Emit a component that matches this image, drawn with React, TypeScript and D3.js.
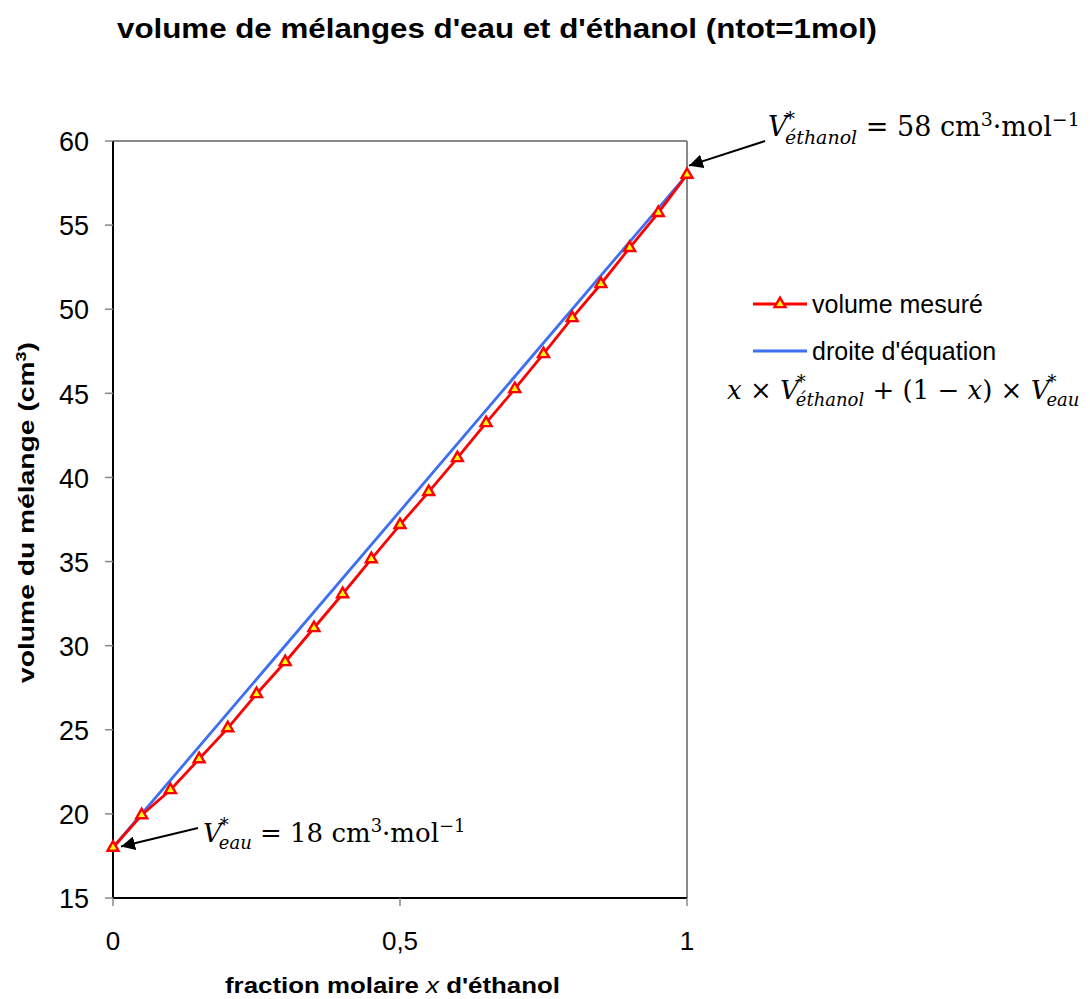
import * as d3 from "d3";

const WIDTH = 1090;
const HEIGHT = 999;

const FRACTIONS = [
  0, 0.05, 0.1, 0.15, 0.2, 0.25, 0.3, 0.35, 0.4, 0.45, 0.5, 0.55, 0.6, 0.65,
  0.7, 0.75, 0.8, 0.85, 0.9, 0.95, 1,
];
const MEASURED = [
  18, 19.93, 21.42, 23.26, 25.1, 27.13, 29.03, 31.05, 33.07, 35.15, 37.18,
  39.14, 41.16, 43.24, 45.26, 47.34, 49.48, 51.5, 53.65, 55.73, 58,
];
const IDEAL_X = [0, 1];
const IDEAL_Y = [18, 58];
const Y_TICKS = [15, 20, 25, 30, 35, 40, 45, 50, 55, 60];
const X_TICKS = [0, 0.5, 1];

const M = { left: 113, right: 687, top: 141, bottom: 898 };
const SANS = "'Liberation Sans', Arial, sans-serif";
const MATH = "'DejaVu Serif', 'Liberation Serif', serif";
const RED = "#ff0000";
const BLUE = "#3d6ff2";

export default function App() {
  const x = d3.scaleLinear().domain([0, 1]).range([M.left, M.right]);
  const y = d3.scaleLinear().domain([15, 60]).range([M.bottom, M.top]);

  const measuredLine = d3
    .line<number>()
    .x((_, i) => x(FRACTIONS[i]))
    .y((d) => y(d))(MEASURED);
  const idealLine = d3
    .line<number>()
    .x((_, i) => x(IDEAL_X[i]))
    .y((d) => y(d))(IDEAL_Y);

  const tri = d3.symbol(d3.symbolTriangle, 52)() ?? "";
  const fmt = (v: number) => String(v).replace(".", ",");

  return (
    <svg width={WIDTH} height={HEIGHT} style={{ display: "block", marginTop: -8, marginLeft: -8 }}>
      <defs>
        <marker id="ah" viewBox="0 0 10 10" refX="10" refY="5" markerWidth="7" markerHeight="7" orient="auto">
          <path d="M0,0 L10,5 L0,10 z" fill="#000" />
        </marker>
      </defs>
      <rect width={WIDTH} height={HEIGHT} fill="#fff" />
      <text
        x={117}
        y={38}
        fontFamily={SANS}
        fontWeight="bold"
        fontSize={27}
        textLength={760}
        lengthAdjust="spacingAndGlyphs"
        fill="#000"
      >
        volume de mélanges d'eau et d'éthanol (ntot=1mol)
      </text>

      {/* frame */}
      <line x1={M.left} x2={M.right} y1={M.top} y2={M.top} stroke="#888" strokeWidth={2} />
      <line x1={M.right} x2={M.right} y1={M.top} y2={M.bottom} stroke="#888" strokeWidth={2} />
      <line x1={M.left} x2={M.left} y1={M.top} y2={M.bottom} stroke="#000" strokeWidth={2} />
      <line x1={M.left} x2={M.right} y1={M.bottom} y2={M.bottom} stroke="#000" strokeWidth={2} />

      {Y_TICKS.map((t) => (
        <g key={t}>
          <line x1={M.left - 8} x2={M.left} y1={y(t)} y2={y(t)} stroke="#888" strokeWidth={1.5} />
          <text x={89} y={y(t)} dy="0.38em" textAnchor="end" fontFamily={SANS} fontSize={27} fill="#000">
            {t}
          </text>
        </g>
      ))}
      {X_TICKS.map((t) => (
        <g key={t}>
          <line x1={x(t)} x2={x(t)} y1={M.bottom} y2={M.bottom + 8} stroke="#888" strokeWidth={1.5} />
          <text x={x(t)} y={950} textAnchor="middle" fontFamily={SANS} fontSize={26} fill="#000">
            {fmt(t)}
          </text>
        </g>
      ))}

      <text
        x={225}
        y={993}
        fontFamily={SANS}
        fontWeight="bold"
        fontSize={22.5}
        textLength={335}
        lengthAdjust="spacingAndGlyphs"
      >
        fraction molaire <tspan fontStyle="italic" fontWeight="normal">x</tspan> d'éthanol
      </text>
      <text
        transform={`translate(34,683) rotate(-90)`}
        fontFamily={SANS}
        fontWeight="bold"
        fontSize={22}
        textLength={341}
        lengthAdjust="spacingAndGlyphs"
      >
        volume du mélange (cm<tspan dy={-8} fontSize={14}>3</tspan>
        <tspan dy={8}>)</tspan>
      </text>

      <path d={idealLine ?? ""} fill="none" stroke={BLUE} strokeWidth={2.8} />
      <path d={measuredLine ?? ""} fill="none" stroke={RED} strokeWidth={2.8} />
      {MEASURED.map((v, i) => (
        <path
          key={i}
          d={tri}
          transform={`translate(${x(FRACTIONS[i])},${y(v)})`}
          fill="#ffff00"
          stroke={RED}
          strokeWidth={2.4}
        />
      ))}

      {/* annotations */}
      <line x1={198} y1={828} x2={x(0) + 8} y2={y(18) - 1} stroke="#000" strokeWidth={2} markerEnd="url(#ah)" />
      <text x={203} y={842} fontFamily={MATH} fontSize={26}>
        <tspan fontStyle="italic">V</tspan>
        <tspan dx={-2} dy={-11} fontSize={18}>*</tspan>
        <tspan dx={-10} dy={18} fontStyle="italic" fontSize={18}>eau</tspan>
        <tspan dy={-7}> = 18 cm</tspan>
        <tspan dy={-10} fontSize={18}>3</tspan>
        <tspan dy={10}>·mol</tspan>
        <tspan dy={-10} fontSize={18}>−1</tspan>
      </text>

      <line x1={765} y1={141} x2={x(1) + 2} y2={y(58) - 9} stroke="#000" strokeWidth={2} markerEnd="url(#ah)" />
      <text x={768} y={136} fontFamily={MATH} fontSize={27}>
        <tspan fontStyle="italic">V</tspan>
        <tspan dx={-2} dy={-11} fontSize={19}>*</tspan>
        <tspan dx={-10} dy={19} fontStyle="italic" fontSize={19}>éthanol</tspan>
        <tspan dy={-8}> = 58 cm</tspan>
        <tspan dy={-10} fontSize={19}>3</tspan>
        <tspan dy={10}>·mol</tspan>
        <tspan dy={-10} fontSize={19}>−1</tspan>
      </text>

      {/* legend */}
      <line x1={753} x2={807} y1={304} y2={304} stroke={RED} strokeWidth={2.8} />
      <path d={tri} transform="translate(780,304)" fill="#ffff00" stroke={RED} strokeWidth={2.4} />
      <text x={812} y={313} fontFamily={SANS} fontSize={25}>
        volume mesuré
      </text>
      <line x1={753} x2={807} y1={351} y2={351} stroke={BLUE} strokeWidth={2.8} />
      <text x={812} y={360} fontFamily={SANS} fontSize={25}>
        droite d'équation
      </text>
      <text x={727} y={399} fontFamily={MATH} fontSize={26}>
        <tspan fontStyle="italic">x</tspan>
        <tspan> × </tspan>
        <tspan fontStyle="italic">V</tspan>
        <tspan dx={-2} dy={-11} fontSize={18}>*</tspan>
        <tspan dx={-10} dy={18} fontStyle="italic" fontSize={18}>éthanol</tspan>
        <tspan dy={-7}> + (1 − </tspan>
        <tspan fontStyle="italic">x</tspan>
        <tspan>) × </tspan>
        <tspan fontStyle="italic">V</tspan>
        <tspan dx={-2} dy={-11} fontSize={18}>*</tspan>
        <tspan dx={-10} dy={18} fontStyle="italic" fontSize={18}>eau</tspan>
      </text>
    </svg>
  );
}
